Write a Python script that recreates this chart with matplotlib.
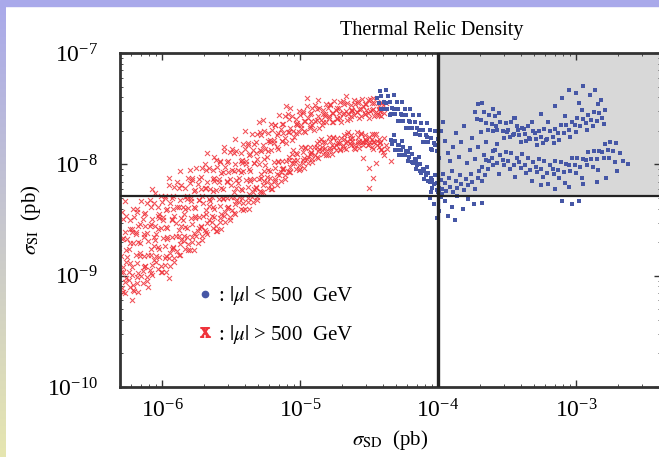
import numpy as np
import matplotlib.pyplot as plt
from matplotlib.lines import Line2D
from matplotlib.patches import Rectangle
from matplotlib.ticker import NullFormatter

plt.rcParams['font.family'] = ['Liberation Serif', 'DejaVu Serif']
plt.rcParams['mathtext.fontset'] = 'stix'

# all points are (log10 sigma_SD, log10 sigma_SI)
# |mu| > 500 GeV, upper band
red_upper = [
    (-6.29,-8.43),(-6.32,-8.56),(-6.28,-8.66),(-6.31,-8.75),(-6.30,-8.82),
    (-6.26,-8.46),(-6.23,-8.58),(-6.25,-8.67),(-6.24,-8.76),(-6.27,-8.33),
    (-6.18,-8.40),(-6.20,-8.47),(-6.22,-8.58),(-6.19,-8.63),(-6.21,-8.71),
    (-6.15,-8.33),(-6.14,-8.49),(-6.16,-8.54),(-6.13,-8.63),(-6.17,-8.70),
    (-6.09,-8.32),(-6.12,-8.44),(-6.08,-8.54),(-6.11,-8.62),(-6.10,-8.69),
    (-6.06,-8.35),(-6.03,-8.46),(-6.05,-8.55),(-6.04,-8.63),(-6.07,-8.22),
    (-5.98,-8.28),(-6.00,-8.34),(-6.02,-8.45),(-5.99,-8.50),(-6.01,-8.57),
    (-5.95,-8.19),(-5.94,-8.35),(-5.96,-8.40),(-5.93,-8.49),(-5.97,-8.56),
    (-5.89,-8.16),(-5.92,-8.28),(-5.88,-8.38),(-5.91,-8.46),(-5.90,-8.53),
    (-5.86,-8.19),(-5.83,-8.29),(-5.85,-8.38),(-5.84,-8.45),(-5.87,-8.06),
    (-5.78,-8.12),(-5.80,-8.17),(-5.82,-8.28),(-5.79,-8.33),(-5.81,-8.39),
    (-5.75,-8.03),(-5.74,-8.18),(-5.76,-8.23),(-5.73,-8.32),(-5.77,-8.38),
    (-5.69,-8.00),(-5.72,-8.11),(-5.68,-8.21),(-5.71,-8.28),(-5.70,-8.35),
    (-5.66,-8.03),(-5.63,-8.13),(-5.65,-8.22),(-5.64,-8.29),(-5.67,-7.90),
    (-5.58,-7.97),(-5.60,-8.02),(-5.62,-8.12),(-5.59,-8.16),(-5.61,-8.23),
    (-5.55,-7.88),(-5.54,-8.02),(-5.56,-8.07),(-5.53,-8.15),(-5.57,-8.21),
    (-5.49,-7.86),(-5.52,-7.97),(-5.48,-8.06),(-5.51,-8.13),(-5.50,-8.19),
    (-5.46,-7.88),(-5.43,-7.97),(-5.45,-8.05),(-5.44,-8.12),(-5.47,-7.77),
    (-5.38,-7.81),(-5.40,-7.86),(-5.42,-7.96),(-5.39,-8.00),(-5.41,-8.06),
    (-5.35,-7.73),(-5.34,-7.87),(-5.36,-7.91),(-5.33,-7.99),(-5.37,-8.04),
    (-5.29,-7.71),(-5.32,-7.80),(-5.28,-7.88),(-5.31,-7.95),(-5.30,-8.00),
    (-5.26,-7.70),(-5.23,-7.79),(-5.25,-7.86),(-5.24,-7.93),(-5.27,-7.60),
    (-5.18,-7.65),(-5.20,-7.69),(-5.22,-7.78),(-5.19,-7.81),(-5.21,-7.87),
    (-5.15,-7.56),(-5.14,-7.68),(-5.16,-7.72),(-5.13,-7.79),(-5.17,-7.84),
    (-5.09,-7.55),(-5.12,-7.64),(-5.08,-7.71),(-5.11,-7.76),(-5.10,-7.81),
    (-5.06,-7.57),(-5.03,-7.64),(-5.05,-7.70),(-5.04,-7.75),(-5.07,-7.49),
    (-4.98,-7.52),(-5.00,-7.56),(-5.02,-7.63),(-4.99,-7.67),(-5.01,-7.71),
    (-4.95,-7.48),(-4.94,-7.58),(-4.96,-7.61),(-4.93,-7.66),(-4.97,-7.70),
    (-4.89,-7.47),(-4.92,-7.54),(-4.88,-7.60),(-4.91,-7.65),(-4.90,-7.69),
    (-4.86,-7.49),(-4.83,-7.55),(-4.85,-7.60),(-4.84,-7.65),(-4.87,-7.42),
    (-4.78,-7.46),(-4.80,-7.49),(-4.82,-7.55),(-4.79,-7.58),(-4.81,-7.62),
    (-4.75,-7.43),(-4.74,-7.51),(-4.76,-7.54),(-4.73,-7.58),(-4.77,-7.62),
    (-4.69,-7.43),(-4.72,-7.49),(-4.68,-7.54),(-4.71,-7.58),(-4.70,-7.62),
    (-4.66,-7.45),(-4.63,-7.51),(-4.65,-7.55),(-4.64,-7.59),(-4.67,-7.39),
    (-4.58,-7.43),(-4.60,-7.46),(-4.62,-7.51),(-4.59,-7.53),(-4.61,-7.56),
    (-4.55,-7.41),(-4.54,-7.48),(-4.56,-7.50),(-4.53,-7.55),(-4.57,-7.58),
    (-4.49,-7.41),(-4.52,-7.46),(-4.48,-7.51),(-4.51,-7.54),(-4.50,-7.58),
    (-4.46,-7.45),(-4.43,-7.50),(-4.45,-7.53),(-4.44,-7.56),(-4.47,-7.40),
    (-4.38,-7.45),(-4.40,-7.47),(-4.42,-7.52),(-4.39,-7.54),(-4.41,-7.57),
]
red_upper_b = [
    (-6.28,-8.49),(-6.27,-8.61),(-6.29,-8.67),(-6.26,-8.77),
    (-6.21,-8.40),(-6.23,-8.50),(-6.22,-8.61),(-6.23,-8.71),
    (-6.18,-8.43),(-6.17,-8.55),(-6.19,-8.61),(-6.16,-8.71),
    (-6.11,-8.35),(-6.13,-8.45),(-6.12,-8.55),(-6.13,-8.65),
    (-6.08,-8.38),(-6.07,-8.49),(-6.09,-8.55),(-6.06,-8.65),
    (-6.01,-8.28),(-6.03,-8.38),(-6.02,-8.48),(-6.03,-8.58),
    (-5.98,-8.30),(-5.97,-8.41),(-5.99,-8.47),(-5.96,-8.57),
    (-5.91,-8.20),(-5.93,-8.30),(-5.92,-8.40),(-5.93,-8.50),
    (-5.88,-8.21),(-5.87,-8.32),(-5.89,-8.38),(-5.86,-8.48),
    (-5.81,-8.12),(-5.83,-8.21),(-5.82,-8.31),(-5.83,-8.40),
    (-5.78,-8.14),(-5.77,-8.24),(-5.79,-8.30),(-5.76,-8.39),
    (-5.71,-8.03),(-5.73,-8.13),(-5.72,-8.22),(-5.73,-8.32),
    (-5.68,-8.05),(-5.67,-8.16),(-5.69,-8.21),(-5.66,-8.31),
    (-5.61,-7.96),(-5.63,-8.05),(-5.62,-8.15),(-5.63,-8.24),
    (-5.58,-7.98),(-5.57,-8.08),(-5.59,-8.13),(-5.56,-8.22),
    (-5.51,-7.89),(-5.53,-7.98),(-5.52,-8.07),(-5.53,-8.16),
    (-5.48,-7.90),(-5.47,-8.00),(-5.49,-8.05),(-5.46,-8.14),
    (-5.41,-7.82),(-5.43,-7.90),(-5.42,-7.99),(-5.43,-8.07),
    (-5.38,-7.83),(-5.37,-7.92),(-5.39,-7.97),(-5.36,-8.06),
    (-5.31,-7.73),(-5.33,-7.82),(-5.32,-7.90),(-5.33,-7.99),
    (-5.28,-7.74),(-5.27,-7.83),(-5.29,-7.87),(-5.26,-7.95),
    (-5.21,-7.64),(-5.23,-7.72),(-5.22,-7.80),(-5.23,-7.88),
    (-5.18,-7.65),(-5.17,-7.74),(-5.19,-7.78),(-5.16,-7.86),
    (-5.11,-7.57),(-5.13,-7.64),(-5.12,-7.72),(-5.13,-7.79),
    (-5.08,-7.59),(-5.07,-7.67),(-5.09,-7.71),(-5.06,-7.78),
    (-5.01,-7.52),(-5.03,-7.59),(-5.02,-7.65),(-5.03,-7.72),
    (-4.98,-7.54),(-4.97,-7.61),(-4.99,-7.65),(-4.96,-7.71),
    (-4.91,-7.49),(-4.93,-7.55),(-4.92,-7.61),(-4.93,-7.67),
    (-4.88,-7.50),(-4.87,-7.57),(-4.89,-7.61),(-4.86,-7.67),
    (-4.81,-7.46),(-4.83,-7.51),(-4.82,-7.57),(-4.83,-7.62),
    (-4.78,-7.47),(-4.77,-7.54),(-4.79,-7.57),(-4.76,-7.62),
    (-4.71,-7.44),(-4.73,-7.49),(-4.72,-7.54),(-4.73,-7.59),
    (-4.68,-7.46),(-4.67,-7.52),(-4.69,-7.55),(-4.66,-7.60),
    (-4.61,-7.42),(-4.63,-7.47),(-4.62,-7.52),(-4.63,-7.57),
    (-4.58,-7.45),(-4.57,-7.50),(-4.59,-7.53),(-4.56,-7.57),
    (-4.51,-7.42),(-4.53,-7.46),(-4.52,-7.51),(-4.53,-7.55),
    (-4.48,-7.45),(-4.47,-7.50),(-4.49,-7.52),(-4.46,-7.57),
    (-4.41,-7.44),(-4.43,-7.48),(-4.42,-7.52),(-4.43,-7.56),
]
# |mu| > 500 GeV, lower band
red_lower = [
    (-6.28,-8.92),(-6.30,-8.97),(-6.32,-9.07),(-6.29,-9.11),(-6.31,-9.18),
    (-6.25,-8.83),(-6.24,-8.97),(-6.26,-9.02),(-6.23,-9.10),(-6.27,-9.16),
    (-6.19,-8.81),(-6.22,-8.92),(-6.18,-9.01),(-6.21,-9.08),(-6.20,-9.14),
    (-6.16,-8.82),(-6.13,-8.92),(-6.15,-9.00),(-6.14,-9.07),(-6.17,-9.15),
    (-6.08,-8.76),(-6.10,-8.81),(-6.12,-8.91),(-6.09,-8.95),(-6.11,-9.01),
    (-6.05,-8.68),(-6.04,-8.82),(-6.06,-8.86),(-6.03,-8.94),(-6.07,-8.99),
    (-5.99,-8.66),(-6.02,-8.76),(-5.98,-8.84),(-6.01,-8.91),(-6.00,-8.97),
    (-5.96,-8.67),(-5.93,-8.76),(-5.95,-8.84),(-5.94,-8.91),(-5.97,-8.97),
    (-5.88,-8.59),(-5.90,-8.64),(-5.92,-8.74),(-5.89,-8.78),(-5.91,-8.84),
    (-5.85,-8.50),(-5.84,-8.64),(-5.86,-8.68),(-5.83,-8.76),(-5.87,-8.81),
    (-5.79,-8.48),(-5.82,-8.57),(-5.78,-8.65),(-5.81,-8.72),(-5.80,-8.77),
    (-5.76,-8.48),(-5.73,-8.57),(-5.75,-8.64),(-5.74,-8.71),(-5.77,-8.77),
    (-5.68,-8.41),(-5.70,-8.46),(-5.72,-8.55),(-5.69,-8.59),(-5.71,-8.64),
    (-5.65,-8.33),(-5.64,-8.46),(-5.66,-8.50),(-5.63,-8.57),(-5.67,-8.63),
    (-5.59,-8.31),(-5.62,-8.40),(-5.58,-8.48),(-5.61,-8.55),(-5.60,-8.60),
    (-5.56,-8.31),(-5.53,-8.39),(-5.55,-8.46),(-5.54,-8.52),(-5.57,-8.58),
    (-5.48,-8.25),(-5.50,-8.29),(-5.52,-8.38),(-5.49,-8.41),(-5.51,-8.47),
    (-5.45,-8.17),(-5.44,-8.29),(-5.46,-8.33),(-5.43,-8.40),(-5.47,-8.45),
    (-5.39,-8.14),(-5.42,-8.23),(-5.38,-8.30),(-5.41,-8.35),(-5.40,-8.40),
    (-5.36,-8.15),(-5.33,-8.22),(-5.35,-8.29),(-5.34,-8.34),(-5.37,-8.40),
    (-5.28,-8.09),(-5.30,-8.13),(-5.32,-8.20),(-5.29,-8.24),(-5.31,-8.29),
    (-5.25,-8.01),(-5.24,-8.11),(-5.26,-8.15),(-5.23,-8.21),(-5.27,-8.25),
    (-5.19,-7.98),(-5.22,-8.06),(-5.18,-8.13),(-5.21,-8.18),(-5.20,-8.22),
    (-5.16,-7.98),(-5.13,-8.04),(-5.15,-8.10),(-5.14,-8.15),(-5.17,-8.19),
    (-5.08,-7.93),(-5.10,-7.97),(-5.12,-8.03),(-5.09,-8.06),(-5.11,-8.10),
    (-5.05,-7.87),(-5.04,-7.96),(-5.06,-7.99),(-5.03,-8.04),(-5.07,-8.07),
    (-4.99,-7.84),(-5.02,-7.91),(-4.98,-7.96),(-5.01,-8.01),(-5.00,-8.04),
    (-4.96,-7.85),(-4.93,-7.91),(-4.95,-7.95),(-4.94,-7.99),(-4.97,-8.03),
    (-4.88,-7.81),(-4.90,-7.84),(-4.92,-7.89),(-4.89,-7.92),(-4.91,-7.95),
    (-4.85,-7.77),(-4.84,-7.84),(-4.86,-7.86),(-4.83,-7.91),(-4.87,-7.94),
    (-4.79,-7.75),(-4.82,-7.80),(-4.78,-7.85),(-4.81,-7.88),(-4.80,-7.92),
    (-4.76,-7.76),(-4.73,-7.81),(-4.75,-7.84),(-4.74,-7.87),(-4.77,-7.91),
    (-4.68,-7.74),(-4.70,-7.76),(-4.72,-7.81),(-4.69,-7.83),(-4.71,-7.86),
    (-4.65,-7.71),(-4.64,-7.77),(-4.66,-7.79),(-4.63,-7.83),(-4.67,-7.86),
    (-4.59,-7.71),(-4.62,-7.76),(-4.58,-7.80),(-4.61,-7.83),(-4.60,-7.86),
    (-4.56,-7.73),(-4.53,-7.77),(-4.55,-7.80),(-4.54,-7.83),(-4.57,-7.85),
    (-4.48,-7.73),(-4.50,-7.75),(-4.52,-7.79),(-4.49,-7.80),(-4.51,-7.83),
    (-4.45,-7.73),(-4.44,-7.79),(-4.46,-7.80),(-4.43,-7.84),(-4.47,-7.86),
    (-4.39,-7.76),(-4.42,-7.80),(-4.38,-7.83),(-4.41,-7.86),(-4.40,-7.89),
]
red_lower_b = [
    (-6.26,-8.88),(-6.28,-8.97),(-6.27,-9.06),(-6.28,-9.15),
    (-6.23,-8.89),(-6.22,-8.99),(-6.24,-9.04),(-6.21,-9.13),
    (-6.16,-8.80),(-6.18,-8.89),(-6.17,-8.98),(-6.18,-9.07),
    (-6.13,-8.82),(-6.12,-8.91),(-6.14,-8.96),(-6.11,-9.05),
    (-6.06,-8.73),(-6.08,-8.81),(-6.07,-8.90),(-6.08,-8.98),
    (-6.03,-8.74),(-6.02,-8.83),(-6.04,-8.88),(-6.01,-8.97),
    (-5.96,-8.65),(-5.98,-8.73),(-5.97,-8.82),(-5.98,-8.90),
    (-5.93,-8.65),(-5.92,-8.75),(-5.94,-8.80),(-5.91,-8.88),
    (-5.86,-8.55),(-5.88,-8.64),(-5.87,-8.72),(-5.88,-8.81),
    (-5.83,-8.56),(-5.82,-8.65),(-5.84,-8.69),(-5.81,-8.77),
    (-5.76,-8.46),(-5.78,-8.54),(-5.77,-8.62),(-5.78,-8.70),
    (-5.73,-8.47),(-5.72,-8.56),(-5.74,-8.60),(-5.71,-8.68),
    (-5.66,-8.37),(-5.68,-8.45),(-5.67,-8.53),(-5.68,-8.61),
    (-5.63,-8.38),(-5.62,-8.47),(-5.64,-8.52),(-5.61,-8.60),
    (-5.56,-8.30),(-5.58,-8.37),(-5.57,-8.45),(-5.58,-8.52),
    (-5.53,-8.30),(-5.52,-8.38),(-5.54,-8.43),(-5.51,-8.50),
    (-5.46,-8.21),(-5.48,-8.29),(-5.47,-8.36),(-5.48,-8.44),
    (-5.43,-8.22),(-5.42,-8.30),(-5.44,-8.34),(-5.41,-8.41),
    (-5.36,-8.13),(-5.38,-8.20),(-5.37,-8.27),(-5.38,-8.34),
    (-5.33,-8.13),(-5.32,-8.21),(-5.34,-8.25),(-5.31,-8.32),
    (-5.26,-8.06),(-5.28,-8.12),(-5.27,-8.19),(-5.28,-8.25),
    (-5.23,-8.05),(-5.22,-8.12),(-5.24,-8.16),(-5.21,-8.22),
    (-5.16,-7.97),(-5.18,-8.03),(-5.17,-8.09),(-5.18,-8.15),
    (-5.13,-7.97),(-5.12,-8.04),(-5.14,-8.07),(-5.11,-8.13),
    (-5.06,-7.91),(-5.08,-7.96),(-5.07,-8.02),(-5.08,-8.07),
    (-5.03,-7.90),(-5.02,-7.96),(-5.04,-7.99),(-5.01,-8.05),
    (-4.96,-7.84),(-4.98,-7.89),(-4.97,-7.94),(-4.98,-7.99),
    (-4.93,-7.84),(-4.92,-7.90),(-4.94,-7.93),(-4.91,-7.98),
    (-4.86,-7.79),(-4.88,-7.84),(-4.87,-7.88),(-4.88,-7.93),
    (-4.83,-7.80),(-4.82,-7.85),(-4.84,-7.87),(-4.81,-7.92),
    (-4.76,-7.75),(-4.78,-7.79),(-4.77,-7.83),(-4.78,-7.87),
    (-4.73,-7.76),(-4.72,-7.81),(-4.74,-7.83),(-4.71,-7.87),
    (-4.66,-7.73),(-4.68,-7.77),(-4.67,-7.81),(-4.68,-7.85),
    (-4.63,-7.74),(-4.62,-7.79),(-4.64,-7.81),(-4.61,-7.85),
    (-4.56,-7.72),(-4.58,-7.75),(-4.57,-7.79),(-4.58,-7.82),
    (-4.53,-7.74),(-4.52,-7.78),(-4.54,-7.80),(-4.51,-7.83),
    (-4.46,-7.73),(-4.48,-7.77),(-4.47,-7.80),(-4.48,-7.84),
    (-4.43,-7.77),(-4.42,-7.81),(-4.44,-7.83),(-4.41,-7.87),
]
red_stray = [
    (-4.54,-7.94),(-4.50,-8.03),(-4.47,-8.12),(-4.50,-8.21),(-4.39,-7.92),
    (-4.34,-7.97),(-4.37,-7.86),(-4.45,-7.99),(-5.62,-7.93),(-5.55,-7.84),
    (-5.40,-7.70),(-5.30,-7.62),(-5.80,-8.05),(-6.05,-8.26),(-5.95,-8.12),
    (-5.10,-7.48),(-4.95,-7.40),(-6.22,-9.22),(-6.10,-9.10),(-5.95,-9.02),
]

# |mu| < 500 GeV, the two steep bands left of sigma_SD = 1e-4
blue_left = [
    (-4.42,-7.34),(-4.44,-7.40),(-4.43,-7.45),(-4.41,-7.50),
    (-4.41,-7.39),(-4.39,-7.44),(-4.40,-7.50),(-4.38,-7.33),
    (-4.36,-7.39),(-4.38,-7.45),(-4.37,-7.50),(-4.35,-7.56),
    (-4.35,-7.44),(-4.33,-7.49),(-4.34,-7.55),(-4.32,-7.38),
    (-4.30,-7.44),(-4.32,-7.50),(-4.31,-7.55),(-4.29,-7.61),
    (-4.29,-7.50),(-4.27,-7.55),(-4.28,-7.61),(-4.26,-7.44),
    (-4.24,-7.50),(-4.26,-7.56),(-4.25,-7.61),(-4.23,-7.67),
    (-4.23,-7.56),(-4.21,-7.61),(-4.22,-7.67),(-4.20,-7.50),
    (-4.18,-7.56),(-4.20,-7.62),(-4.19,-7.67),(-4.17,-7.73),
    (-4.17,-7.62),(-4.15,-7.67),(-4.16,-7.73),(-4.14,-7.56),
    (-4.12,-7.63),(-4.14,-7.69),(-4.13,-7.74),(-4.11,-7.80),
    (-4.11,-7.69),(-4.09,-7.74),(-4.10,-7.80),(-4.08,-7.63),
    (-4.06,-7.69),(-4.08,-7.75),(-4.07,-7.80),(-4.05,-7.86),
    (-4.05,-7.76),(-4.03,-7.81),(-4.04,-7.87),(-4.02,-7.70),
    (-4.00,-7.77),(-4.02,-7.83),(-4.01,-7.88),(-3.99,-7.94),
    (-4.32,-7.74),(-4.34,-7.78),(-4.33,-7.82),(-4.31,-7.87),
    (-4.31,-7.79),(-4.29,-7.83),(-4.30,-7.87),(-4.28,-7.92),
    (-4.26,-7.79),(-4.28,-7.83),(-4.27,-7.87),(-4.25,-7.92),
    (-4.25,-7.84),(-4.23,-7.88),(-4.24,-7.92),(-4.22,-7.97),
    (-4.20,-7.85),(-4.22,-7.89),(-4.21,-7.93),(-4.19,-7.98),
    (-4.19,-7.91),(-4.17,-7.95),(-4.18,-7.99),(-4.16,-8.04),
    (-4.14,-7.93),(-4.16,-7.97),(-4.15,-8.01),(-4.13,-8.06),
    (-4.13,-8.00),(-4.11,-8.04),(-4.12,-8.08),(-4.10,-8.13),
    (-4.08,-8.02),(-4.10,-8.06),(-4.09,-8.10),(-4.07,-8.15),
    (-4.07,-8.08),(-4.05,-8.12),(-4.06,-8.16),(-4.04,-8.21),
    (-4.02,-8.10),(-4.04,-8.14),(-4.03,-8.18),(-4.01,-8.23),
    (-4.01,-8.17),(-3.99,-8.21),(-4.00,-8.25),(-3.98,-8.29),
]
# |mu| < 500 GeV, just right of sigma_SD = 1e-4 and below the sigma_SI line
blue_mid = [
    (-3.98,-8.14),(-3.97,-8.22),(-3.99,-8.26),(-3.95,-8.17),(-3.94,-8.24),
    (-3.92,-8.12),(-3.91,-8.20),(-3.89,-8.25),(-3.87,-8.15),(-3.86,-8.21),
    (-3.84,-8.10),(-3.83,-8.18),(-3.81,-8.23),(-3.80,-8.13),(-3.78,-8.19),
    (-3.76,-8.09),(-3.75,-8.16),(-3.73,-8.22),(-3.71,-8.12),(-3.70,-8.06),
    (-3.68,-8.15),(-3.66,-8.10),(-3.64,-8.04),(-3.96,-8.09),(-3.90,-8.06),
    (-4.06,-8.30),(-4.03,-8.36),(-3.99,-8.42),(-3.95,-8.33),(-3.90,-8.38),
    (-3.86,-8.28),(-3.82,-8.40),(-3.78,-8.31),(-4.01,-8.48),(-3.93,-8.46),
    (-3.74,-8.36),(-4.05,-8.25),(-3.97,-8.27),(-3.88,-8.50),(-3.68,-8.35),
    (-3.10,-8.33),(-3.03,-8.36),(-2.98,-8.33),
    (-3.98,-7.70),(-3.96,-7.62),(-3.95,-7.79),(-3.93,-7.90),(-3.91,-7.97),
    (-3.89,-7.84),(-3.87,-7.72),(-3.85,-7.93),(-3.83,-7.80),(-3.81,-7.66),
    (-3.79,-7.99),(-3.77,-7.87),(-3.75,-7.76),(-3.73,-7.95),(-3.71,-7.84),
    (-3.69,-7.71),(-3.67,-7.92),(-3.65,-7.80),(-3.63,-7.97),(-3.60,-7.88),
    (-3.57,-7.82),
]
# |mu| < 500 GeV, upper band in the shaded region
blue_right_upper = [
    (-3.71,-7.46),(-3.73,-7.53),(-3.72,-7.59),(-3.67,-7.53),(-3.69,-7.60),(-3.68,-7.45),
    (-3.63,-7.56),(-3.65,-7.63),(-3.64,-7.69),(-3.59,-7.57),(-3.61,-7.64),(-3.60,-7.70),
    (-3.55,-7.62),(-3.57,-7.69),(-3.56,-7.54),(-3.51,-7.63),(-3.53,-7.70),(-3.52,-7.76),
    (-3.47,-7.62),(-3.49,-7.69),(-3.48,-7.75),(-3.43,-7.66),(-3.45,-7.73),(-3.44,-7.58),
    (-3.39,-7.67),(-3.41,-7.74),(-3.40,-7.80),(-3.35,-7.66),(-3.37,-7.73),(-3.36,-7.79),
    (-3.31,-7.70),(-3.33,-7.77),(-3.32,-7.62),(-3.27,-7.70),(-3.29,-7.77),(-3.28,-7.83),
    (-3.23,-7.68),(-3.25,-7.75),(-3.24,-7.81),(-3.19,-7.70),(-3.21,-7.77),(-3.20,-7.62),
    (-3.15,-7.68),(-3.17,-7.75),(-3.16,-7.81),(-3.11,-7.65),(-3.13,-7.72),(-3.12,-7.78),
    (-3.07,-7.65),(-3.09,-7.72),(-3.08,-7.57),(-3.03,-7.62),(-3.05,-7.69),(-3.04,-7.75),
    (-2.99,-7.58),(-3.01,-7.65),(-3.00,-7.71),(-2.95,-7.59),(-2.97,-7.66),(-2.96,-7.51),
    (-2.91,-7.56),(-2.93,-7.63),(-2.92,-7.69),(-2.87,-7.53),(-2.89,-7.60),(-2.88,-7.66),
    (-2.83,-7.54),(-2.85,-7.61),(-2.84,-7.46),(-2.79,-7.51),(-2.81,-7.58),(-2.80,-7.64),
    (-3.10,-7.40),(-3.05,-7.33),(-3.00,-7.36),(-2.95,-7.30),(-2.90,-7.38),(-2.86,-7.33),
    (-3.15,-7.48),(-2.98,-7.45),(-3.25,-7.55),(-3.45,-7.58),(-3.60,-7.50),(-2.82,-7.42),
    (-3.58,-7.66),(-3.50,-7.71),(-3.42,-7.69),(-3.34,-7.76),(-3.30,-7.72),(-3.22,-7.78),
    (-3.46,-7.74),(-3.38,-7.68),
]
# |mu| < 500 GeV, lower band in the shaded region
blue_right_lower = [
    (-3.59,-7.87),(-3.61,-7.94),(-3.60,-8.01),(-3.55,-7.92),(-3.57,-7.99),(-3.56,-8.09),
    (-3.51,-7.89),(-3.53,-7.96),(-3.52,-8.01),(-3.47,-7.90),(-3.49,-7.97),(-3.48,-8.04),
    (-3.43,-7.94),(-3.45,-8.01),(-3.44,-8.11),(-3.39,-7.91),(-3.41,-7.98),(-3.40,-8.03),
    (-3.35,-7.94),(-3.37,-8.01),(-3.36,-8.08),(-3.31,-7.98),(-3.33,-8.05),(-3.32,-8.15),
    (-3.27,-7.95),(-3.29,-8.02),(-3.28,-8.07),(-3.23,-7.97),(-3.25,-8.04),(-3.24,-8.11),
    (-3.19,-8.01),(-3.21,-8.08),(-3.20,-8.18),(-3.15,-7.97),(-3.17,-8.04),(-3.16,-8.09),
    (-3.11,-7.98),(-3.13,-8.05),(-3.12,-8.12),(-3.07,-8.00),(-3.09,-8.07),(-3.08,-8.17),
    (-3.03,-7.94),(-3.05,-8.01),(-3.04,-8.06),(-2.99,-7.94),(-3.01,-8.01),(-3.00,-8.08),
    (-2.95,-7.95),(-2.97,-8.02),(-2.96,-8.12),(-2.91,-7.89),(-2.93,-7.96),(-2.92,-8.01),
    (-2.87,-7.88),(-2.89,-7.95),(-2.88,-8.02),(-2.83,-7.88),(-2.85,-7.95),(-2.84,-8.05),
    (-2.79,-7.82),(-2.81,-7.89),(-2.80,-7.94),(-2.75,-7.80),(-2.77,-7.87),(-2.76,-7.94),
    (-2.71,-7.81),(-2.73,-7.88),(-2.72,-7.98),
    (-3.65,-7.96),(-3.68,-8.02),(-2.68,-7.90),(-2.66,-7.97),(-2.70,-8.06),(-2.78,-8.12),
    (-2.85,-8.16),(-2.95,-8.18),(-3.05,-8.20),(-3.15,-8.22),(-3.25,-8.19),(-2.62,-8.00),
]

x_ticks = [1e-6, 1e-5, 1e-4, 1e-3]
y_ticks = [1e-10, 1e-9, 1e-8, 1e-7]
sd_cut = 1e-4      # vertical line
si_cut = 5.15e-9   # horizontal line
x_range = (10**-6.304, 10**-2.384)
y_range = (1e-10, 1e-7)

red = '#ef323a'
blue = '#4657a6'


def pts(lst):
    a = np.array(lst)
    return 10**a[:, 0], 10**a[:, 1]


fig = plt.figure(figsize=(6.59, 4.57), dpi=100)

# slide frame
fig.patches.append(Rectangle((0, 1 - 6/457), 1, 6/457, transform=fig.transFigure,
                             color='#a9a9ea', zorder=0))
strip = fig.add_axes([0, 0, 6/659, 1 - 6/457])
top_c = np.array([170, 170, 234]) / 255
bot_c = np.array([230, 230, 176]) / 255
t = np.linspace(0, 1, 200)[:, None, None]
strip.imshow(top_c * (1 - t) + bot_c * t, aspect='auto')
strip.axis('off')

ax = fig.add_axes([120/659, 70/457, 541/659, 334/457])
ax.set_xscale('log')
ax.set_yscale('log')
ax.set_xticks(x_ticks)
ax.set_yticks(y_ticks)
ax.set_xlim(*x_range)
ax.set_ylim(*y_range)

ax.fill_between([sd_cut, x_range[1]], si_cut, y_range[1], color='#d8d8d8', zorder=0, lw=0)

for grp in (red_upper, red_upper_b, red_lower, red_lower_b, red_stray):
    x, y = pts(grp)
    ax.scatter(x, y, marker='x', s=13, linewidths=0.75, color=red, alpha=0.85, zorder=2)
for grp in (blue_left, blue_mid, blue_right_upper, blue_right_lower):
    x, y = pts(grp)
    ax.scatter(x, y, marker='s', s=10, linewidths=0, color=blue, zorder=3)

ax.axvline(sd_cut, color='#222222', lw=2.4, zorder=4)
ax.axhline(si_cut, color='#222222', lw=1.6, zorder=4)

for s in ax.spines.values():
    s.set_linewidth(2)
    s.set_color('#333333')
ax.tick_params(which='both', direction='in', top=True, right=True, colors='#333333',
               labelcolor='black', labelsize=17)
ax.tick_params(which='major', length=5, width=1)
ax.tick_params(which='minor', length=2.5, width=0.6)
ax.tick_params(axis='x', pad=9)
ax.tick_params(axis='y', pad=16)
ax.xaxis.set_minor_formatter(NullFormatter())
ax.yaxis.set_minor_formatter(NullFormatter())

ax.set_xlabel(r'$\sigma_{\rm SD}$  (pb)', fontsize=15, labelpad=4)
ax.set_ylabel(r'$\sigma_{\rm SI}$  (pb)', fontsize=15, labelpad=3)
fig.text(432/659, 1 - 30/457, 'Thermal Relic Density', ha='center', va='center', fontsize=14.5)

handles = [Line2D([], [], ls='none', marker='o', ms=4.5, color=blue),
           Line2D([], [], ls='none', marker=r'$\mathrm{x}$', ms=7, color=red)]
labels = [r': $|\mu|$ < 500  GeV', r': $|\mu|$ > 500  GeV']
ax.legend(handles, labels, loc='upper left', bbox_to_anchor=(0.146, 0.308),
          frameon=False, fontsize=15, handlelength=0.6, handletextpad=0.3,
          labelspacing=0.75, borderpad=0, borderaxespad=0)

fig.savefig('out.png', dpi=100)
